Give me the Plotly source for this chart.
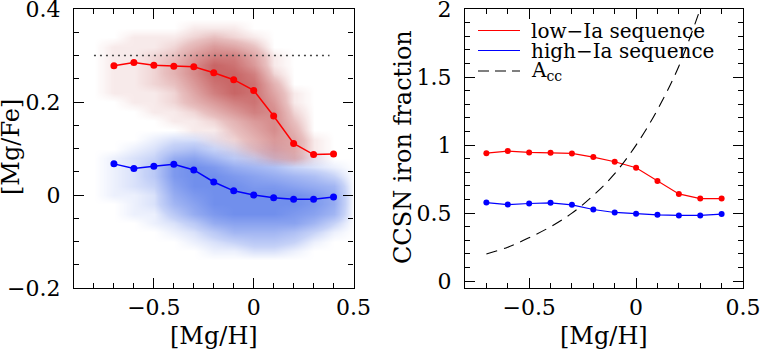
import plotly.graph_objects as go

# ---------------- data ----------------
mgh = [-0.7, -0.6, -0.5, -0.4, -0.3, -0.2, -0.1, 0.0, 0.1, 0.2, 0.3, 0.4]

# left panel: median [Mg/Fe] tracks
low_mgfe = [0.278, 0.285, 0.279, 0.277, 0.276, 0.263, 0.248, 0.225, 0.170, 0.111, 0.087, 0.088]
high_mgfe = [0.067, 0.057, 0.062, 0.066, 0.054, 0.028, 0.009, 0.000, -0.006, -0.009, -0.009, -0.004]

# reference plateau line
plateau_x = [-0.8, 0.38]
plateau_y = [0.3, 0.3]

# right panel: CCSN iron fraction
low_frac = [0.941, 0.956, 0.946, 0.944, 0.939, 0.912, 0.878, 0.834, 0.737, 0.641, 0.607, 0.607]
high_frac = [0.578, 0.563, 0.571, 0.576, 0.561, 0.527, 0.505, 0.495, 0.488, 0.483, 0.483, 0.493]
acc_x = [-0.7, -0.6, -0.5, -0.4, -0.3, -0.2, -0.1, 0.0, 0.1, 0.2, 0.3]
acc_y = [0.20, 0.25, 0.32, 0.40, 0.50, 0.63, 0.79, 1.00, 1.26, 1.58, 2.00]

# star clouds: estimated star density (0-10)
cloud_x = [-0.8, -0.7, -0.6, -0.5, -0.4, -0.3, -0.2, -0.1, 0.0, 0.1, 0.2, 0.3, 0.4, 0.5]
blue_y = [-0.14, -0.12, -0.10, -0.08, -0.06, -0.04, -0.02, 0.0, 0.02, 0.04,
          0.06, 0.08, 0.10, 0.12, 0.14, 0.16]
blue_density = [
    [0, 0, 0, 0, 0, 0, 0, 0, 0, 0, 0, 0, 0, 0],
    [0, 0, 0, 0, 0, 0, 1, 1, 2, 2, 1, 0, 0, 0],
    [0, 0, 0, 0, 0, 1, 2, 3, 4, 4, 3, 1, 0, 0],
    [0, 0, 0, 0, 1, 2, 4, 6, 6, 6, 5, 3, 1, 0],
    [0, 0, 0, 1, 2, 4, 7, 8, 8, 8, 8, 6, 3, 0],
    [0, 0, 1, 1, 4, 7, 9, 10, 10, 10, 9, 8, 6, 0],
    [0, 0, 1, 2, 6, 8, 10, 10, 10, 10, 10, 9, 7, 0],
    [0, 1, 1, 2, 7, 9, 10, 10, 10, 10, 10, 9, 7, 0],
    [0, 1, 2, 3, 8, 10, 10, 10, 9, 9, 8, 7, 6, 0],
    [0, 1, 2, 4, 9, 10, 10, 9, 8, 7, 6, 5, 3, 0],
    [0, 1, 2, 4, 9, 10, 9, 7, 6, 5, 3, 2, 1, 0],
    [0, 1, 2, 3, 7, 8, 6, 4, 3, 2, 1, 1, 0, 0],
    [0, 0, 1, 2, 4, 5, 3, 2, 1, 1, 0, 0, 0, 0],
    [0, 0, 0, 1, 2, 2, 1, 0, 0, 0, 0, 0, 0, 0],
    [0, 0, 0, 0, 0, 0, 0, 0, 0, 0, 0, 0, 0, 0],
    [0, 0, 0, 0, 0, 0, 0, 0, 0, 0, 0, 0, 0, 0],
]
red_y = [0.06, 0.08, 0.10, 0.12, 0.14, 0.16, 0.18, 0.20, 0.22, 0.24,
         0.26, 0.28, 0.30, 0.32, 0.34, 0.36, 0.38]
red_density = [
    [0, 0, 0, 0, 0, 0, 0, 0, 0, 0, 0, 0, 0, 0],
    [0, 0, 0, 0, 0, 0, 0, 0, 1, 3, 4, 1, 0, 0],
    [0, 0, 0, 0, 0, 0, 0, 1, 3, 5, 5, 1, 0, 0],
    [0, 0, 0, 0, 0, 0, 1, 2, 4, 6, 5, 1, 0, 0],
    [0, 0, 0, 0, 0, 1, 1, 3, 5, 7, 4, 0, 0, 0],
    [0, 0, 0, 0, 1, 1, 2, 4, 6, 7, 3, 0, 0, 0],
    [0, 0, 0, 1, 1, 2, 4, 6, 8, 7, 2, 0, 0, 0],
    [0, 0, 1, 1, 2, 4, 6, 8, 9, 6, 1, 0, 0, 0],
    [0, 1, 1, 1, 2, 5, 8, 10, 9, 5, 1, 0, 0, 0],
    [0, 1, 1, 2, 3, 6, 9, 10, 9, 4, 0, 0, 0, 0],
    [0, 1, 1, 2, 4, 7, 10, 10, 8, 2, 0, 0, 0, 0],
    [0, 1, 1, 2, 4, 7, 10, 9, 6, 1, 0, 0, 0, 0],
    [0, 1, 1, 2, 3, 6, 8, 8, 5, 1, 0, 0, 0, 0],
    [0, 1, 1, 1, 2, 4, 6, 5, 3, 0, 0, 0, 0, 0],
    [0, 0, 1, 1, 1, 2, 3, 2, 1, 0, 0, 0, 0, 0],
    [0, 0, 0, 0, 0, 1, 1, 1, 0, 0, 0, 0, 0, 0],
    [0, 0, 0, 0, 0, 0, 0, 0, 0, 0, 0, 0, 0, 0],
]

legend_labels = ["low\u2212Ia sequence", "high\u2212Ia sequence", "A<sub>cc</sub>"]

# ---------------- figure ----------------
FONT = "DejaVu Serif"
RED = "#ff0000"
BLUE = "#0000ff"

fig = go.Figure()

fig.add_trace(go.Heatmap(
    x=cloud_x, y=blue_y, z=blue_density, zmin=0, zmax=10, zsmooth="best",
    colorscale=[[0, "rgba(66,106,230,0)"], [0.3, "rgba(66,106,230,0.3)"],
                [1, "rgba(66,106,230,0.75)"]],
    showscale=False, hoverinfo="skip", xaxis="x", yaxis="y"))
fig.add_trace(go.Heatmap(
    x=cloud_x, y=red_y, z=red_density, zmin=0, zmax=10, zsmooth="best",
    colorscale=[[0, "rgba(170,18,18,0)"], [0.3, "rgba(170,18,18,0.27)"],
                [1, "rgba(170,18,18,0.65)"]],
    showscale=False, hoverinfo="skip", xaxis="x", yaxis="y"))

fig.add_trace(go.Scatter(x=plateau_x, y=plateau_y, mode="lines",
                         line=dict(color="#444444", width=1.6, dash="2px,4px"),
                         xaxis="x", yaxis="y", showlegend=False))
fig.add_trace(go.Scatter(x=mgh, y=low_mgfe, mode="lines+markers",
                         line=dict(color=RED, width=1.5), marker=dict(color=RED, size=7),
                         xaxis="x", yaxis="y", showlegend=False))
fig.add_trace(go.Scatter(x=mgh, y=high_mgfe, mode="lines+markers",
                         line=dict(color=BLUE, width=1.5), marker=dict(color=BLUE, size=7),
                         xaxis="x", yaxis="y", showlegend=False))

fig.add_trace(go.Scatter(x=mgh, y=low_frac, mode="lines+markers",
                         line=dict(color=RED, width=1.2), marker=dict(color=RED, size=6),
                         xaxis="x2", yaxis="y2", showlegend=False))
fig.add_trace(go.Scatter(x=mgh, y=high_frac, mode="lines+markers",
                         line=dict(color=BLUE, width=1.2), marker=dict(color=BLUE, size=6),
                         xaxis="x2", yaxis="y2", showlegend=False))
fig.add_trace(go.Scatter(x=acc_x, y=acc_y, mode="lines", line_shape="spline",
                         line=dict(color="black", width=1.1, dash="11px,7px"),
                         xaxis="x2", yaxis="y2", showlegend=False))

W, H = 761, 352
TOP, BOT = 9, 288


def axis_common(**kw):
    d = dict(showline=True, linecolor="black", linewidth=1.2, mirror="allticks",
             ticks="inside", ticklen=10, tickwidth=1.2, tickcolor="black",
             showgrid=False, zeroline=False, automargin=False,
             ticklabeloverflow="allow",
             tickfont=dict(family=FONT, size=22, color="black"))
    d.update(kw)
    return d


def minor(dt):
    return dict(ticks="inside", ticklen=5, dtick=dt, tick0=0,
                tickcolor="black", tickwidth=1.2, showgrid=False)


fig.update_layout(
    template="none",
    width=W, height=H,
    margin=dict(l=0, r=0, t=TOP, b=H - BOT, pad=0),
    paper_bgcolor="white", plot_bgcolor="white",
    showlegend=False,
    xaxis=axis_common(domain=[74 / W, 353.5 / W], range=[-0.9, 0.5], tick0=0, dtick=0.5,
                      ticklabelstandoff=-1, minor=minor(0.1)),
    yaxis=axis_common(domain=[0, 1], range=[-0.2, 0.4001], tick0=0, dtick=0.2,
                      ticklabelstandoff=8, minor=minor(0.05)),
    xaxis2=axis_common(domain=[465 / W, 743 / W], range=[-0.8, 0.5], tick0=0, dtick=0.5,
                       anchor="y2", ticklabelstandoff=-1, minor=minor(0.1)),
    yaxis2=axis_common(domain=[0, 1], range=[-0.05, 2.0001], tick0=0, dtick=0.5,
                       anchor="x2", ticklabelstandoff=8, minor=minor(0.1)),
)


def py(pix):
    return (BOT - pix) / (BOT - TOP)


ann = []
ann.append(dict(text="[Mg/Fe]", x=11 / W, y=py(147), textangle=-90,
                font=dict(family=FONT, size=24, color="black")))
ann.append(dict(text="CCSN iron fraction", x=403 / W, y=py(147), textangle=-90,
                font=dict(family=FONT, size=24, color="black")))
ann.append(dict(text="[Mg/H]", x=214 / W, y=py(336),
                font=dict(family=FONT, size=24, color="black")))
ann.append(dict(text="[Mg/H]", x=604 / W, y=py(336),
                font=dict(family=FONT, size=24, color="black")))

rows = [30.5, 50.5, 71]
styles = [dict(color=RED, width=1.2), dict(color=BLUE, width=1.2),
          dict(color="black", width=1.1, dash="11px,6px")]
shapes = []
for r, lab, st in zip(rows, legend_labels, styles):
    shapes.append(dict(type="line", xref="paper", yref="paper",
                       x0=478 / W, x1=520 / W, y0=py(r), y1=py(r), line=st))
    ann.append(dict(text=lab, x=529 / W, y=py(r), xanchor="left",
                    font=dict(family=FONT, size=20, color="black")))

for a in ann:
    a.update(xref="paper", yref="paper", showarrow=False)
    a.setdefault("xanchor", "center")
    a.setdefault("yanchor", "middle")

fig.update_layout(annotations=ann, shapes=shapes)

fig.write_html("out.html",
               config={"displayModeBar": False},
               post_script="document.body.style.margin='0px';"
                           "document.body.style.overflow='hidden';")
